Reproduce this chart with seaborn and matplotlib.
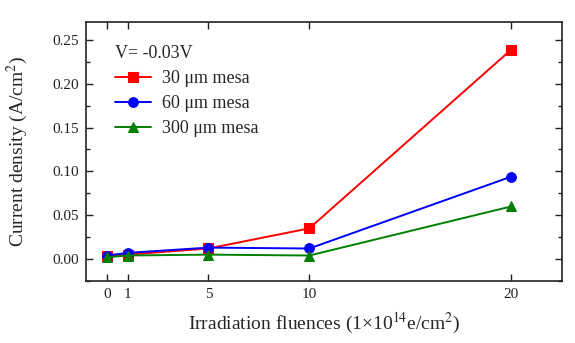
import matplotlib
matplotlib.use("Agg")
import matplotlib.pyplot as plt
import seaborn as sns
import pandas as pd
from matplotlib.ticker import MultipleLocator

fluences = [0, 1, 5, 10, 20]
mesa_30 = [0.003, 0.005, 0.012, 0.035, 0.239]
mesa_60 = [0.004, 0.007, 0.013, 0.012, 0.094]
mesa_300 = [0.002, 0.004, 0.005, 0.004, 0.060]
labels = ["30 \u03bcm mesa", "60 \u03bcm mesa", "300 \u03bcm mesa"]
colors = ["#ff0000", "#0000ff", "#008000"]
markers = ["s", "o", "^"]

sns.set_style("ticks")
plt.rcParams['font.family'] = ['Liberation Serif', 'DejaVu Serif']
plt.rcParams['mathtext.fontset'] = 'stix'

fig = plt.figure(figsize=(5.75, 3.43), dpi=100)
ax = fig.add_axes([0.15, 0.181, 0.827, 0.755])

for vals, lab, c, m in zip([mesa_30, mesa_60, mesa_300], labels, colors, markers):
    df = pd.DataFrame({"x": fluences, "y": vals})
    sns.lineplot(data=df, x="x", y="y", ax=ax, color=c, marker=m, markersize=7,
                 markeredgecolor=c, linewidth=1.4, label=lab)

ax.set_xlim(-1.05, 22.5)
ax.set_ylim(-0.025, 0.2705)
ax.set_xticks(fluences)
ax.yaxis.set_major_locator(MultipleLocator(0.05))
ax.yaxis.set_minor_locator(MultipleLocator(0.025))
ax.set_yticklabels([f"{v:.2f}" for v in ax.get_yticks()])
ax.tick_params(which="both", direction="in", top=True, right=True, labelsize=11,
               width=1.0, colors="#222222")
ax.tick_params(which="major", length=5, pad=5)
ax.tick_params(which="minor", length=3)
for s in ax.spines.values():
    s.set_linewidth(1.2)
    s.set_color("#222222")

ax.set_xlabel("Irradiation fluences (1\u00d710$^{14}$e/cm$^{2}$)", fontsize=14, labelpad=7)
ax.set_ylabel("Current density (A/cm$^{2}$)", fontsize=14, labelpad=16)

leg = ax.legend(title="V= -0.03V", loc="upper left", frameon=False, fontsize=13,
                title_fontsize=13, handlelength=2.0, handletextpad=0.6,
                labelspacing=0.45, borderaxespad=0.0,
                bbox_to_anchor=(0.045, 0.94))
leg._legend_box.align = "left"

fig.savefig("out.png", dpi=100)
